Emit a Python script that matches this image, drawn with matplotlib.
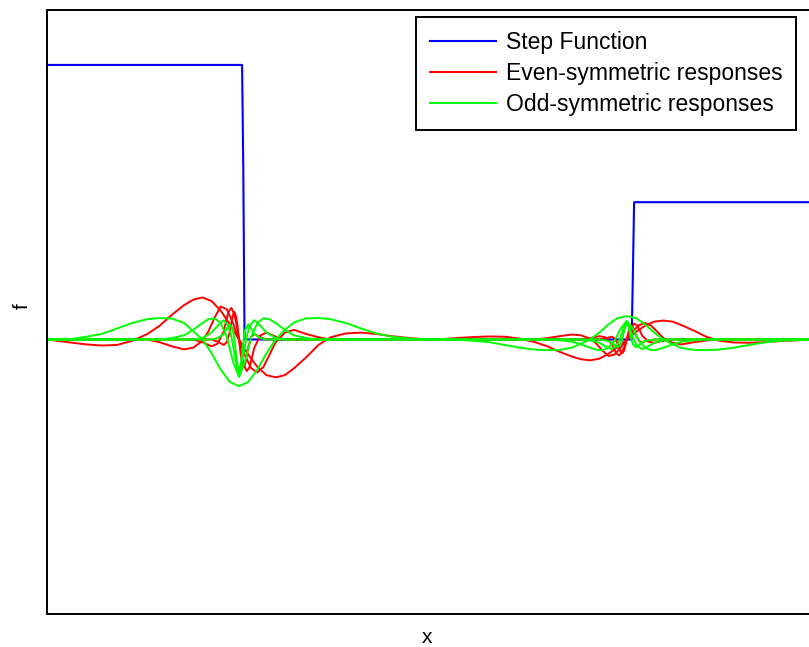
import matplotlib
matplotlib.use("Agg")
import matplotlib.pyplot as plt

plt.rcParams['font.family'] = ['Liberation Sans', 'DejaVu Sans']

# step function
step_x = [0, 64, 64.4, 64.8, 191.6, 192.0, 192.4, 250]
step_y = [1.0, 1.0, 0.62, 0.0, 0.0, 0.24, 0.5, 0.5]

# scale 1 (widest filter)
s1_x = [0, 7, 13, 18, 23, 28, 33, 37, 41, 45, 48, 51, 54, 57, 60, 63, 66, 69, 72, 75, 78, 81, 85,
        89, 93, 98, 103, 108, 113, 119, 125,
        128, 134, 140, 145, 150, 155, 160, 164, 168, 172, 175, 178, 181, 184, 187, 190, 193, 196,
        199, 202, 205, 208, 212, 216, 220, 225, 230, 235, 240, 246, 252]
even1 = [0, -0.01, -0.018, -0.022, -0.02, -0.005, 0.02, 0.05, 0.09, 0.125, 0.145, 0.153, 0.14,
         0.105, 0.055, 0.0, -0.055, -0.1, -0.13, -0.138, -0.13, -0.105, -0.065, -0.02, 0.008,
         0.022, 0.025, 0.02, 0.012, 0.005, 0,
         0, 0.005, 0.009, 0.011, 0.01, 0.003, -0.01, -0.025, -0.045, -0.062, -0.072, -0.076,
         -0.07, -0.052, -0.028, 0, 0.028, 0.05, 0.065, 0.069, 0.065, 0.052, 0.032, 0.01, -0.004,
         -0.011, -0.012, -0.01, -0.006, -0.003, 0]
odd1 = [0, 0.0, 0.01, 0.02, 0.04, 0.06, 0.074, 0.078, 0.076, 0.06, 0.03, 0.0, -0.05, -0.11,
        -0.155, -0.17, -0.155, -0.11, -0.05, 0.0, 0.035, 0.062, 0.077, 0.078, 0.074, 0.06, 0.04,
        0.022, 0.01, 0.003, 0,
        0, 0, -0.005, -0.01, -0.02, -0.03, -0.037, -0.039, -0.038, -0.03, -0.015, 0, 0.025,
        0.055, 0.078, 0.085, 0.078, 0.055, 0.025, 0, -0.018, -0.031, -0.038, -0.039, -0.037,
        -0.03, -0.02, -0.011, -0.005, -0.002, 0]

# scale 2
s2_x = [0, 33, 37, 41, 45, 48, 51, 53, 55, 57, 59, 61, 63, 65, 67, 69, 71, 73, 75, 78, 81, 85, 89, 93,
        160, 164, 168, 172, 175, 178, 180, 182, 184, 186, 188, 190, 192, 194, 196, 198, 200, 202,
        205, 208, 212, 216, 220, 250]
even2 = [0, 0, -0.01, -0.025, -0.036, -0.03, -0.005, 0.03, 0.08, 0.12, 0.11, 0.06, 0, -0.06,
         -0.105, -0.12, -0.1, -0.055, -0.01, 0.025, 0.035, 0.02, 0.008, 0,
         0, 0.005, 0.012, 0.018, 0.015, 0.003, -0.015, -0.04, -0.06, -0.055, -0.03, 0, 0.03,
         0.052, 0.06, 0.05, 0.028, 0.005, -0.012, -0.018, -0.01, -0.004, 0, 0]
odd2 = [0, 0, 0.0, 0.005, 0.015, 0.035, 0.06, 0.074, 0.077, 0.06, 0.01, -0.08, -0.137, -0.08,
        0.01, 0.06, 0.077, 0.074, 0.06, 0.035, 0.015, 0.005, 0, 0,
        0, 0, -0.003, -0.008, -0.018, -0.03, -0.037, -0.039, -0.03, -0.005, 0.04, 0.068, 0.04,
        -0.005, -0.03, -0.039, -0.037, -0.03, -0.018, -0.008, -0.003, 0, 0, 0]

# scale 3
s3_x = [0, 48, 51, 54, 56, 58, 59.5, 60.5, 61.5, 62.25, 63, 63.75, 64.5, 65.5, 66.5, 68, 70, 72, 75, 78,
        175, 178, 181, 183, 185, 186.5, 187.5, 188.5, 189.25, 190, 190.75, 191.5, 192.5, 193.5,
        195, 197, 199, 202, 205, 250]
even3 = [0, 0, -0.01, -0.025, -0.015, 0.03, 0.1, 0.115, 0.09, 0.05, 0, -0.05, -0.09, -0.115,
         -0.1, -0.03, 0.015, 0.025, 0.01, 0,
         0, 0.005, 0.012, 0.008, -0.015, -0.05, -0.058, -0.045, -0.025, 0, 0.025, 0.045, 0.058,
         0.05, 0.015, -0.008, -0.012, -0.005, 0, 0]
odd3 = [0, 0, 0.005, 0.025, 0.05, 0.07, 0.05, 0.01, -0.05, -0.1, -0.124, -0.1, -0.05, 0.01, 0.05,
        0.07, 0.05, 0.025, 0.005, 0,
        0, -0.003, -0.012, -0.025, -0.035, -0.025, -0.005, 0.025, 0.05, 0.062, 0.05, 0.025,
        -0.005, -0.025, -0.035, -0.025, -0.012, -0.003, 0, 0]

# scale 4 (narrowest filter)
s4_x = [0, 54, 56, 58, 59, 60, 61, 61.5, 62, 62.5, 63, 63.5, 64, 64.5, 65, 66, 67, 68, 70, 72,
        181, 183, 185, 186, 187, 188, 188.5, 189, 189.5, 190, 190.5, 191, 191.5, 192, 193, 194,
        195, 197, 199, 250]
even4 = [0, 0, -0.008, -0.02, -0.01, 0.03, 0.09, 0.1, 0.085, 0.05, 0, -0.05, -0.085, -0.1,
         -0.09, -0.03, 0.01, 0.02, 0.008, 0,
         0, 0.004, 0.01, 0.005, -0.015, -0.045, -0.05, -0.043, -0.025, 0, 0.025, 0.043, 0.05,
         0.045, 0.015, -0.005, -0.01, -0.004, 0, 0]
odd4 = [0, 0, 0.005, 0.02, 0.04, 0.055, 0.035, 0.0, -0.05, -0.095, -0.11, -0.095, -0.05, 0.0,
        0.035, 0.055, 0.04, 0.02, 0.005, 0,
        0, -0.003, -0.01, -0.02, -0.028, -0.018, 0.0, 0.025, 0.048, 0.055, 0.048, 0.025, 0.0,
        -0.018, -0.028, -0.02, -0.01, -0.003, 0, 0]

fig = plt.figure(figsize=(8.09, 6.47), dpi=100)
ax = fig.add_axes([0.0577, 0.051, 0.9435, 0.9335])

ax.plot(step_x, step_y, color=(0, 0, 1), lw=1.5, label='Step Function')
scales = [(s1_x, even1, odd1), (s2_x, even2, odd2), (s3_x, even3, odd3), (s4_x, even4, odd4)]
for i, (sx, ev, od) in enumerate(scales):
    ax.plot(sx, ev, color=(1, 0, 0), lw=1.4,
            label='Even-symmetric responses' if i == 0 else None)
for i, (sx, ev, od) in enumerate(scales):
    ax.plot(sx, od, color=(0, 1, 0), lw=1.4,
            label='Odd-symmetric responses' if i == 0 else None)

ax.set_xlim(0, 250)
ax.set_ylim(-1.0, 1.2)
ax.set_xticks([])
ax.set_yticks([])
for sp in ax.spines.values():
    sp.set_linewidth(1.4)

ax.set_xlabel('x', fontsize=15)
ax.set_ylabel('f', fontsize=15)
ax.xaxis.set_label_coords(0.498, -0.024)
ax.yaxis.set_label_coords(-0.02, 0.51)

leg = ax.legend(loc='upper right', bbox_to_anchor=(796 / 809, 1 - 17 / 647),
                bbox_transform=fig.transFigure, borderaxespad=0, fontsize=16.5,
                fancybox=False, framealpha=1, edgecolor='black', borderpad=0.6,
                handlelength=2.85, handletextpad=0.44, labelspacing=0.35)
leg.get_frame().set_linewidth(1.4)

fig.savefig('out.png', dpi=100)
